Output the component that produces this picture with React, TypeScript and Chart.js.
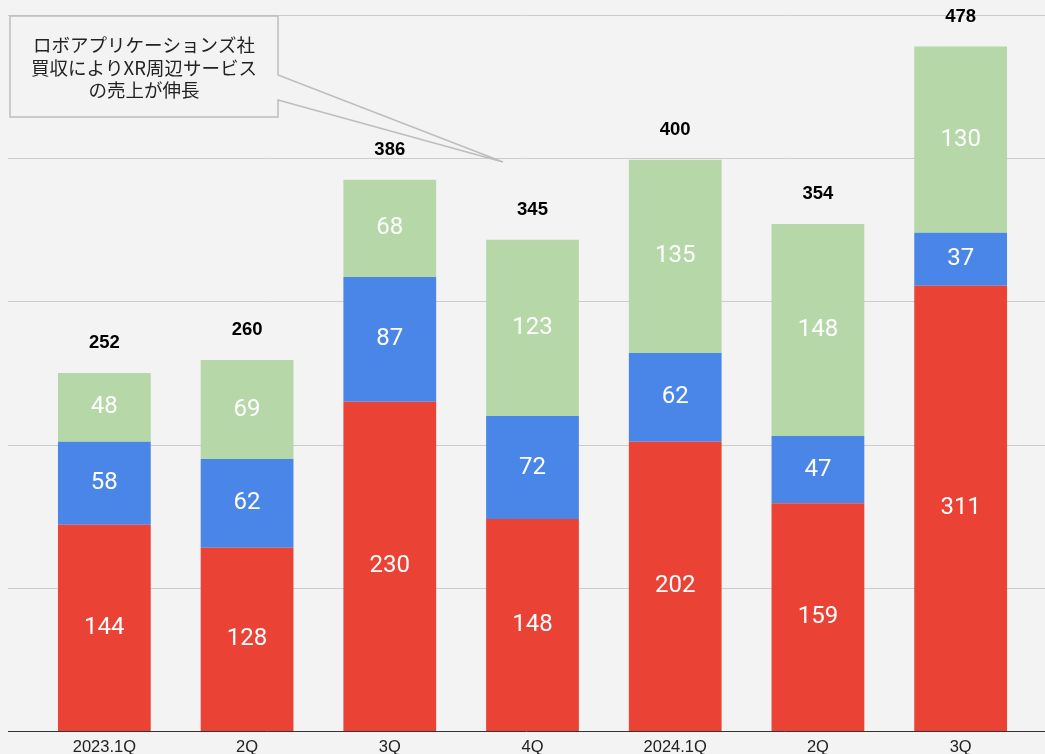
import React, { useEffect, useRef } from "react";
import { Chart, registerables } from "chart.js";
Chart.register(...registerables);

const categories = ["2023.1Q", "2Q", "3Q", "4Q", "2024.1Q", "2Q", "3Q"];
const robotSales = [144, 128, 230, 148, 202, 159, 311];
const midSales = [58, 62, 87, 72, 62, 47, 37];
const xrSales = [48, 69, 68, 123, 135, 148, 130];
const totals = [252, 260, 386, 345, 400, 354, 478];
const gridValues = [100, 200, 300, 400, 500];
const calloutLines = ["ロボアプリケーションズ社", "買収によりXR周辺サービス", "の売上が伸長"];

const W = 1045;
const H = 754;

const decorPlugin = {
  id: "decor",
  beforeDraw(chart: any) {
    const ctx = chart.ctx;
    ctx.save();
    ctx.fillStyle = "#f3f3f3";
    ctx.fillRect(0, 0, chart.width, chart.height);
    const y = chart.scales.y;
    ctx.strokeStyle = "#cccccc";
    ctx.lineWidth = 1;
    for (const v of gridValues) {
      const py = Math.round(y.getPixelForValue(v)) + 0.5;
      ctx.beginPath();
      ctx.moveTo(8, py);
      ctx.lineTo(chart.width, py);
      ctx.stroke();
    }
    ctx.restore();
  },
  afterDatasetsDraw(chart: any) {
    const ctx = chart.ctx;
    const y = chart.scales.y;
    ctx.save();
    // baseline
    const by = Math.round(y.getPixelForValue(0)) + 0.5;
    ctx.strokeStyle = "#333333";
    ctx.lineWidth = 1;
    ctx.beginPath();
    ctx.moveTo(8, by);
    ctx.lineTo(chart.width, by);
    ctx.stroke();
    // segment labels
    ctx.textAlign = "center";
    ctx.textBaseline = "middle";
    ctx.fillStyle = "#ffffff";
    ctx.font = "24px Roboto";
    chart.data.datasets.forEach((ds: any, i: number) => {
      const meta = chart.getDatasetMeta(i);
      meta.data.forEach((el: any, j: number) => {
        ctx.fillText(String(ds.data[j]), el.x, (el.y + el.base) / 2);
      });
    });
    // totals
    const topMeta = chart.getDatasetMeta(chart.data.datasets.length - 1);
    ctx.fillStyle = "#000000";
    ctx.font = "bold 18.5px 'Liberation Sans', Arial";
    topMeta.data.forEach((el: any, j: number) => {
      ctx.fillText(String(totals[j]), el.x, el.y - 30);
    });
    ctx.restore();
  },
  afterDraw(chart: any) {
    const ctx = chart.ctx;
    ctx.save();
    ctx.beginPath();
    ctx.moveTo(10, 16);
    ctx.lineTo(278, 16);
    ctx.lineTo(278, 75);
    ctx.lineTo(503, 162);
    ctx.lineTo(278, 100);
    ctx.lineTo(278, 117);
    ctx.lineTo(10, 117);
    ctx.closePath();
    ctx.fillStyle = "#f3f3f3";
    ctx.fill();
    ctx.strokeStyle = "#bdbdbd";
    ctx.lineWidth = 1.5;
    ctx.stroke();
    ctx.fillStyle = "#222222";
    ctx.font = "18.5px 'Noto Sans CJK JP'";
    ctx.textAlign = "center";
    ctx.textBaseline = "middle";
    calloutLines.forEach((t, i) => {
      ctx.fillText(t, 144, 45 + i * 22.5);
    });
    ctx.restore();
  },
};

export default function App() {
  const ref = useRef<HTMLCanvasElement>(null);
  useEffect(() => {
    if (!ref.current) return;
    const chart = new Chart(ref.current, {
      type: "bar",
      data: {
        labels: categories,
        datasets: [
          { label: "ロボアプリ", data: robotSales, backgroundColor: "#ea4335", borderWidth: 0 },
          { label: "その他", data: midSales, backgroundColor: "#4a86e8", borderWidth: 0 },
          { label: "XR周辺サービス", data: xrSales, backgroundColor: "#b6d7a8", borderWidth: 0 },
        ],
      },
      options: {
        animation: false,
        responsive: false,
        devicePixelRatio: 1,
        layout: { padding: { left: 33, right: 13, top: 15, bottom: 0 } },
        datasets: { bar: { barPercentage: 0.65, categoryPercentage: 1 } },
        plugins: { legend: { display: false }, tooltip: { enabled: false } },
        scales: {
          x: {
            stacked: true,
            grid: { display: false, drawTicks: false },
            border: { display: false },
            ticks: {
              padding: 7,
              color: "#222222",
              font: { family: "'Liberation Sans', Arial", size: 16.5 },
              maxRotation: 0,
              autoSkip: false,
            },
            afterFit: (scale: any) => {
              scale.height = 23;
            },
          },
          y: {
            stacked: true,
            display: false,
            min: 0,
            max: 500,
          },
        },
      },
      plugins: [decorPlugin],
    });
    return () => chart.destroy();
  }, []);
  return (
    <div style={{ position: "absolute", left: 0, top: 0, width: W, height: H, background: "#f3f3f3" }}>
      <canvas ref={ref} width={W} height={H} style={{ display: "block", width: W, height: H }} />
    </div>
  );
}
